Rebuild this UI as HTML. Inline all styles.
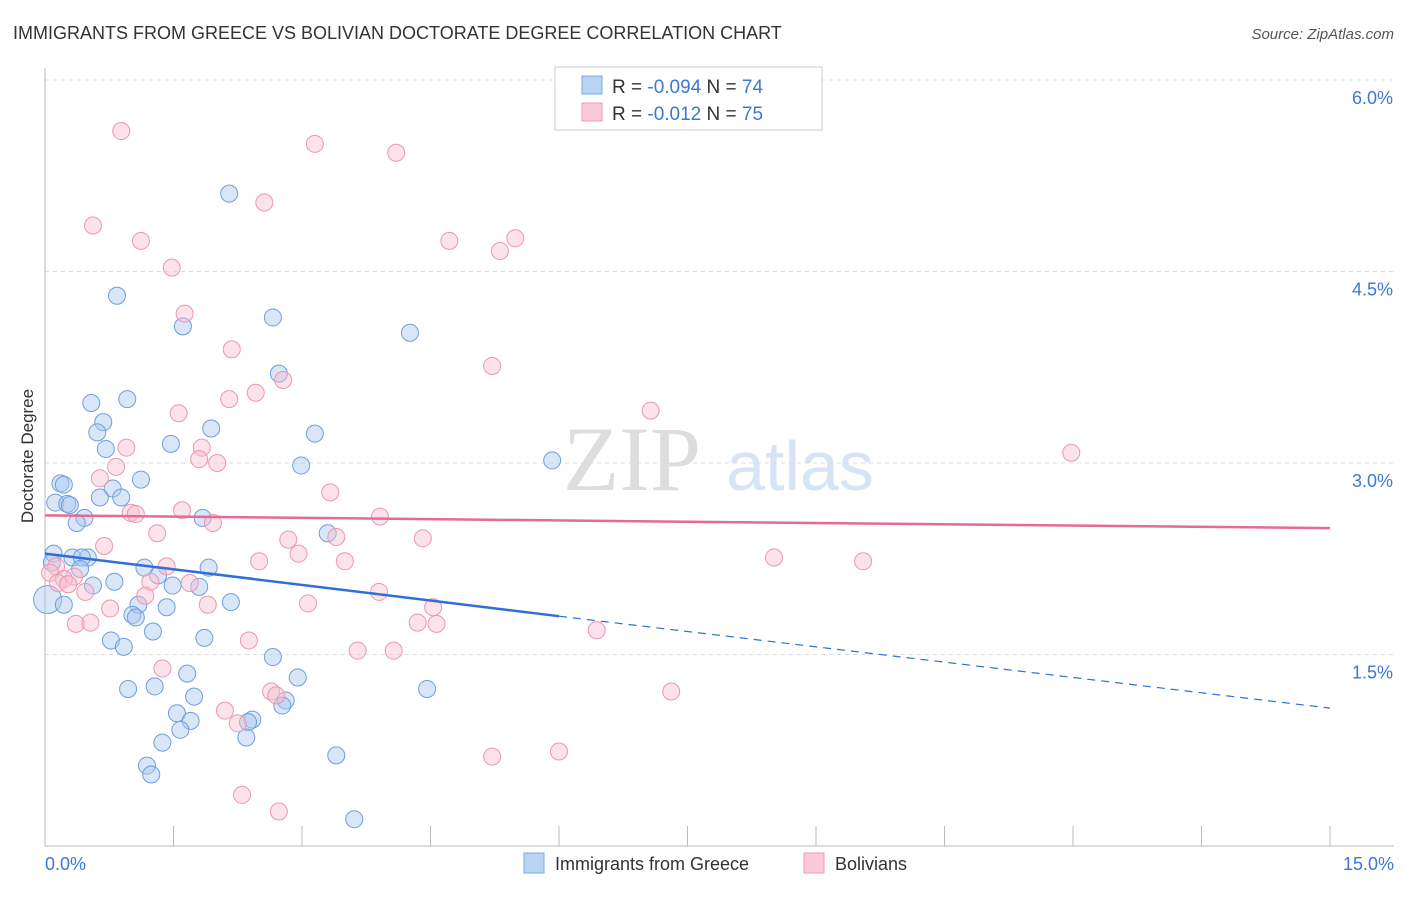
<!DOCTYPE html>
<html><head><meta charset="utf-8"><style>
body{margin:0;background:#fff;font-family:"Liberation Sans",sans-serif}
</style></head><body>
<svg id="chart" width="1406" height="892" xmlns="http://www.w3.org/2000/svg" font-family="Liberation Sans, sans-serif">
<text x="13" y="39" font-size="18" fill="#333">IMMIGRANTS FROM GREECE VS BOLIVIAN DOCTORATE DEGREE CORRELATION CHART</text>
<text x="1394" y="39" font-size="15" fill="#555" font-style="italic" text-anchor="end">Source: ZipAtlas.com</text>
<g>
<text x="632" y="490" font-size="92" fill="#ddd" font-family="Liberation Serif, serif" text-anchor="middle">ZIP</text>
<text x="800" y="490" font-size="70" fill="#d6e4f5" text-anchor="middle">atlas</text>
</g>
<g id="grid"></g>
<g id="axes"></g>
<g id="marks"></g>
<text transform="translate(33,456) rotate(-90)" font-size="17" fill="#333" text-anchor="middle">Doctorate Degree</text>
<g>
<rect x="555" y="67" width="267" height="63" fill="#fff" stroke="#ccc"/>
<rect x="582" y="76" width="20" height="18" fill="#b8d4f5" stroke="#7aa7e0"/>
<rect x="582" y="103" width="20" height="18" fill="#fbcad8" stroke="#ee9ab3"/>
<text x="612" y="93" font-size="19" fill="#333">R = <tspan fill="#3a78d4">-0.094</tspan>   N = <tspan fill="#3a78d4">74</tspan></text>
<text x="612" y="120" font-size="19" fill="#333">R =  <tspan fill="#3a78d4">-0.012</tspan>   N = <tspan fill="#3a78d4">75</tspan></text>
</g>
<g>
<rect x="524" y="853" width="20" height="20" fill="#b8d4f5" stroke="#7aa7e0"/>
<text x="555" y="870" font-size="18" fill="#333">Immigrants from Greece</text>
<rect x="804" y="853" width="20" height="20" fill="#fbcad8" stroke="#ee9ab3"/>
<text x="835" y="870" font-size="18" fill="#333">Bolivians</text>
</g>
</svg>
<script>
const yTicks=[1.5,3.0,4.5,6.0];
const yTickLabels=["1.5%","3.0%","4.5%","6.0%"];
const xTickLabels=["0.0%","15.0%"];
const blueX=[2.15,0.84,1.61,2.66,4.26,2.73,0.96,0.54,0.68,0.61,1.94,3.15,1.47,0.71,2.99,5.92,1.12,0.18,0.22,0.79,0.64,0.89,0.12,0.26,0.29,0.46,0.37,1.84,3.3,0.1,0.32,0.5,0.43,0.08,0.41,1.16,1.91,1.32,0.56,0.81,1.49,1.80,0.03,0.22,1.09,1.42,2.17,1.02,1.06,1.26,0.77,1.86,0.92,2.66,1.66,2.95,0.97,1.28,1.74,4.46,2.81,2.77,1.54,1.70,2.42,2.37,1.58,2.35,1.37,3.40,1.19,1.24,3.61];
const blueY=[5.11,4.31,4.07,4.14,4.02,3.70,3.50,3.47,3.32,3.24,3.27,3.23,3.15,3.11,2.98,3.02,2.87,2.84,2.83,2.80,2.73,2.73,2.69,2.68,2.67,2.57,2.53,2.57,2.45,2.29,2.26,2.26,2.26,2.22,2.17,2.18,2.18,2.12,2.04,2.07,2.04,2.03,1.93,1.89,1.89,1.87,1.91,1.81,1.79,1.68,1.61,1.63,1.56,1.48,1.35,1.32,1.23,1.25,1.17,1.23,1.14,1.10,1.04,0.98,0.99,0.97,0.91,0.85,0.81,0.71,0.63,0.56,0.21];
const pinkX=[0.89,3.15,4.10,2.56,0.56,1.12,4.72,5.49,5.31,1.48,1.63,2.18,5.22,2.78,2.46,2.15,1.56,7.07,0.95,1.83,1.80,2.01,0.83,11.98,0.64,3.33,1.60,1.00,1.06,3.91,1.96,1.31,3.40,2.84,4.41,0.69,2.96,8.51,9.55,2.50,3.50,1.42,0.13,0.06,0.34,0.22,0.15,0.27,1.23,1.69,0.47,3.90,1.17,3.07,1.90,4.53,0.76,0.36,0.53,4.35,4.57,6.44,2.38,3.65,4.07,1.37,7.31,2.64,2.70,2.10,2.25,5.22,6.00,2.30,2.73];
const pinkY=[5.60,5.50,5.43,5.04,4.86,4.74,4.74,4.76,4.66,4.53,4.17,3.89,3.76,3.65,3.55,3.50,3.39,3.41,3.12,3.12,3.03,3.00,2.97,3.08,2.88,2.77,2.63,2.61,2.60,2.58,2.53,2.45,2.42,2.40,2.41,2.35,2.29,2.26,2.23,2.23,2.23,2.19,2.19,2.14,2.11,2.09,2.06,2.05,2.07,2.06,1.99,1.99,1.96,1.90,1.89,1.87,1.86,1.74,1.75,1.75,1.74,1.69,1.61,1.53,1.53,1.39,1.21,1.21,1.18,1.06,0.96,0.70,0.74,0.40,0.27];
const blueTrend=[[0,2.29],[6.0,1.80],[15,1.08]];
const pinkTrend=[[0,2.59],[15,2.49]];
const NS="http://www.w3.org/2000/svg";
function sx(v){return 45+v/15*1285;}
function sy(v){return 846-v*127.67;}
function mk(t,a,p){const e=document.createElementNS(NS,t);for(const k in a)e.setAttribute(k,a[k]);p.appendChild(e);return e;}
const grid=document.getElementById('grid'),axes=document.getElementById('axes'),marks=document.getElementById('marks');
yTicks.forEach((t,i)=>{
 const l=mk('line',{x1:45,x2:1394,y1:sy(t),y2:sy(t),stroke:'#ddd','stroke-dasharray':'4,4'},grid);
 
 
 const tx=mk('text',{x:1393,y:sy(t)+24,'font-size':18,fill:'#3a78d4','text-anchor':'end'},axes);
 tx.textContent=yTickLabels[i];
 
 
});
const ax=mk('path',{d:'M45 68V846H1394',stroke:'#bbb',fill:'none'},axes);


for(let i=0;i<=10;i++){
 const t=mk('line',{x1:sx(i*1.5),x2:sx(i*1.5),y1:826,y2:846,stroke:'#bbb'},axes);
 
 
}
[[0,'start',45],[15,'end',1394]].forEach((d,i)=>{
 const tx=mk('text',{x:d[2],y:870,'font-size':18,fill:'#3a78d4','text-anchor':d[1]},axes);
 tx.textContent=xTickLabels[i];
 
 
});
function dots(X,Y,fill,stroke,name){
 X.forEach((x,i)=>{
  const r=(x<0.05&&Y[i]<2)?14:8.5;
  const c=mk('circle',{cx:sx(x),cy:sy(Y[i]),r:r,fill:fill,'fill-opacity':0.45,stroke:stroke,'stroke-width':1},marks);
  
  
 });
}
dots(blueX,blueY,'#a9c8ef','#6f9fdc','greece-point');
dots(pinkX,pinkY,'#f8bfd0','#ec97b1','bolivian-point');
const b1=mk('line',{x1:sx(blueTrend[0][0]),y1:sy(blueTrend[0][1]),x2:sx(blueTrend[1][0]),y2:sy(blueTrend[1][1]),stroke:'#2f6fd6','stroke-width':2.5},marks);


const b2=mk('line',{x1:sx(blueTrend[1][0]),y1:sy(blueTrend[1][1]),x2:sx(blueTrend[2][0]),y2:sy(blueTrend[2][1]),stroke:'#2f6fd6','stroke-width':1.2,'stroke-dasharray':'8,6'},marks);


const p1=mk('line',{x1:sx(pinkTrend[0][0]),y1:sy(pinkTrend[0][1]),x2:sx(pinkTrend[1][0]),y2:sy(pinkTrend[1][1]),stroke:'#e56b93','stroke-width':2.5},marks);


</script>
</body></html>
